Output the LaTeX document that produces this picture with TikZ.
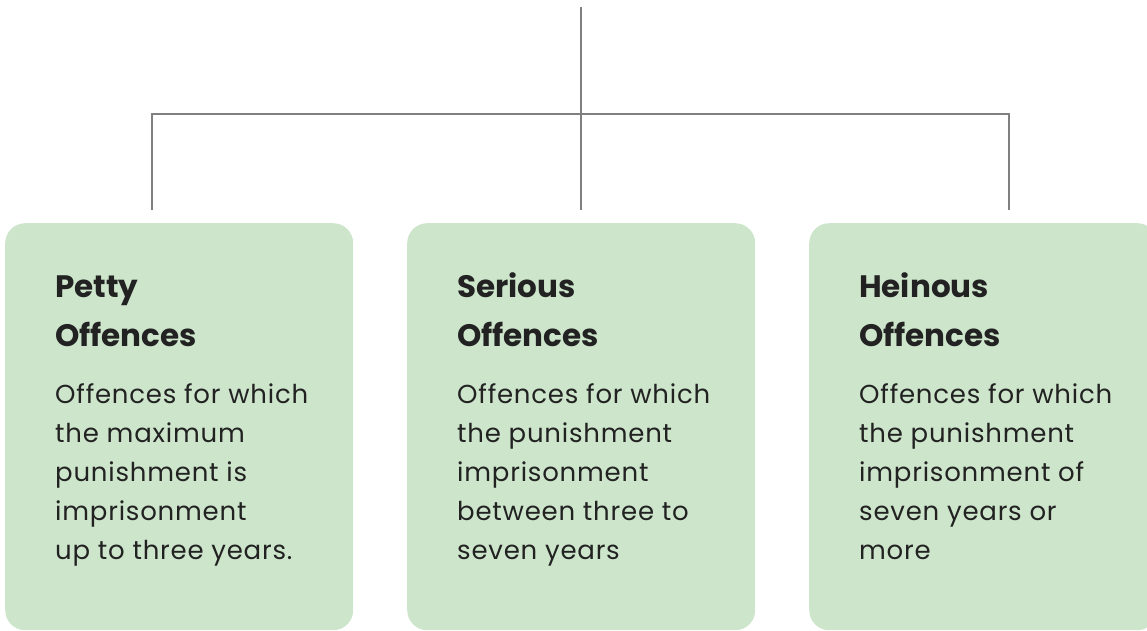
\documentclass[tikz,border=0pt]{standalone}
\usepackage{fontspec}
\setmainfont{Poppins}
\newfontfamily\bodyfont[LetterSpace=3]{Poppins}
\usepackage{tikz}
\usetikzlibrary{positioning}
\definecolor{boxgreen}{HTML}{CDE6CB}
\definecolor{linegray}{HTML}{808080}
\definecolor{textdark}{HTML}{222222}

\begin{document}
\begin{tikzpicture}[x=1pt,y=-1pt,
	offbox/.style={fill=boxgreen, rounded corners=20pt, minimum width=348pt, minimum height=407pt, anchor=north west, inner sep=0pt},
	title/.style={anchor=base west, align=left, inner sep=0pt, text=textdark, font=\fontsize{31}{49}\selectfont\bfseries},
	body/.style={anchor=base west, align=left, inner sep=0pt, text=textdark, font=\bodyfont\fontsize{26}{39}\selectfont},
	link/.style={draw=linegray, line width=2.5pt}]
		\useasboundingbox (0,0) rectangle (1147,630);

		\node[offbox] (petty) at (5,223) {};
		\node[offbox] (serious) at (407,223) {};
		\node[offbox] (heinous) at (809,223) {};

		% base = baseline of the last line
		\node[title] (pettyT) at (55,346) {Petty\\Offences};
		\node[title] (seriousT) at (457,346) {Serious\\Offences};
		\node[title] (heinousT) at (859,346) {Heinous\\Offences};

		\node[body] (pettyB) at (55,559) {Offences for which\\the maximum\\punishment is\\imprisonment\\up to three years.};
		\node[body] (seriousB) at (457,559) {Offences for which\\the punishment\\imprisonment\\between three to\\seven years};
		\node[body] (heinousB) at (859,559) {Offences for which\\the punishment\\imprisonment of\\seven years or\\more};

		\coordinate (top) at (581,7);
		\coordinate (hub) at (581,114);
		\coordinate (pettyIn) at (152,210);
		\coordinate (seriousIn) at (581,210);
		\coordinate (heinousIn) at (1009,210);

		\path[link] (top) -- (seriousIn);
		\path[link] (pettyIn) |- (hub) -| (heinousIn);
\end{tikzpicture}
\end{document}
